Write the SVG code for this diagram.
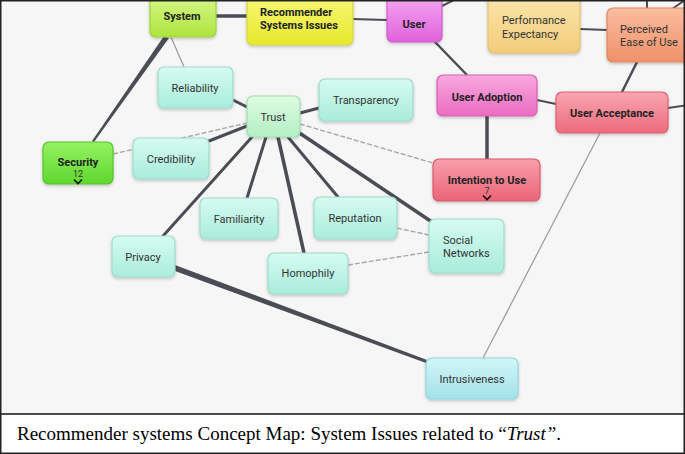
<svg xmlns="http://www.w3.org/2000/svg" width="685" height="454" viewBox="0 0 685 454">
<defs>
<linearGradient id="gTeal" x1="0" y1="0" x2="0" y2="1"><stop offset="0" stop-color="#d6fbf1"/><stop offset="1" stop-color="#a9ecdb"/></linearGradient>
<linearGradient id="gBlue" x1="0" y1="0" x2="0" y2="1"><stop offset="0" stop-color="#d2f6f7"/><stop offset="1" stop-color="#a2e2ea"/></linearGradient>
<linearGradient id="gTrust" x1="0" y1="0" x2="0" y2="1"><stop offset="0" stop-color="#defbe2"/><stop offset="1" stop-color="#b3efc3"/></linearGradient>
<linearGradient id="gSystem" x1="0" y1="0" x2="0" y2="1"><stop offset="0" stop-color="#d9f889"/><stop offset="1" stop-color="#ade43e"/></linearGradient>
<linearGradient id="gSecurity" x1="0" y1="0" x2="0" y2="1"><stop offset="0" stop-color="#95f262"/><stop offset="1" stop-color="#5fd72f"/></linearGradient>
<linearGradient id="gYellow" x1="0" y1="0" x2="0" y2="1"><stop offset="0" stop-color="#f8f878"/><stop offset="1" stop-color="#e6e82c"/></linearGradient>
<linearGradient id="gUser" x1="0" y1="0" x2="0" y2="1"><stop offset="0" stop-color="#f7a8f3"/><stop offset="1" stop-color="#df62db"/></linearGradient>
<linearGradient id="gPerf" x1="0" y1="0" x2="0" y2="1"><stop offset="0" stop-color="#fce6ad"/><stop offset="1" stop-color="#f2cc7a"/></linearGradient>
<linearGradient id="gEase" x1="0" y1="0" x2="0" y2="1"><stop offset="0" stop-color="#fabda0"/><stop offset="1" stop-color="#ef9169"/></linearGradient>
<linearGradient id="gAdopt" x1="0" y1="0" x2="0" y2="1"><stop offset="0" stop-color="#f9a8de"/><stop offset="1" stop-color="#ea6cc2"/></linearGradient>
<linearGradient id="gAccept" x1="0" y1="0" x2="0" y2="1"><stop offset="0" stop-color="#faa6b1"/><stop offset="1" stop-color="#ec6a7c"/></linearGradient>
<linearGradient id="gIntent" x1="0" y1="0" x2="0" y2="1"><stop offset="0" stop-color="#f99fac"/><stop offset="1" stop-color="#ea6477"/></linearGradient>
<filter id="sh" x="-20%" y="-20%" width="140%" height="150%"><feDropShadow dx="0" dy="1.5" stdDeviation="1.5" flood-color="#000" flood-opacity="0.22"/></filter>
</defs>
<style>
.n rect{filter:url(#sh);stroke-width:1.2}
.t{font-family:Roboto,"Liberation Sans",sans-serif;font-size:11px;fill:#333;text-anchor:middle}
.b{font-weight:bold;fill:#222}
.l{text-anchor:start}
.s{font-size:9px}
.teal rect{fill:url(#gTeal);stroke:#9fdcca}
.c{fill:none;stroke:#4a4d55;stroke-linecap:round}
.thin{fill:none;stroke:#9a9a9a;stroke-width:1.2}
.dash{fill:none;stroke:#a8a8a8;stroke-width:1.4;stroke-dasharray:5 2}
.chev{fill:none;stroke:#111;stroke-width:1.6}
.cap{font-family:"Liberation Serif","Times New Roman",serif;font-size:19px;fill:#000}
</style>
<rect x="0" y="0" width="685" height="454" fill="#fff"/>
<rect x="0" y="0" width="685" height="414" fill="#f6f6f6"/>

<g id="connectors">
<line class="c" x1="214" y1="16" x2="247" y2="16" stroke-width="3.5"/>
<line class="c" x1="352" y1="19" x2="387" y2="20" stroke-width="2"/>
<line class="c" x1="424" y1="2" x2="427" y2="-2" stroke-width="2"/>
<line class="c" x1="442" y1="6" x2="458" y2="-2" stroke-width="2"/>
<line class="c" x1="647" y1="8" x2="647" y2="-2" stroke-width="2"/>
<line class="c" x1="672" y1="9" x2="688" y2="-2" stroke-width="2"/>
<line class="c" x1="580" y1="29" x2="607" y2="30" stroke-width="2"/>
<line class="c" x1="435" y1="42" x2="467" y2="75" stroke-width="2.5"/>
<line class="c" x1="637" y1="62" x2="622" y2="92" stroke-width="2.5"/>
<line class="c" x1="537" y1="100" x2="556" y2="104" stroke-width="2"/>
<line class="c" x1="668" y1="108" x2="688" y2="105" stroke-width="2"/>
<line class="c" x1="487" y1="116" x2="487" y2="159" stroke-width="3.5"/>
<line class="thin" x1="600" y1="133" x2="483" y2="358"/>
<polygon points="164,36 169,38 94,142 92,141" fill="#4a4d55"/>
<line class="thin" x1="171" y1="37" x2="184" y2="67"/>
<line class="c" x1="233" y1="100" x2="247" y2="107" stroke-width="3"/>
<line class="c" x1="300" y1="113" x2="319" y2="108" stroke-width="3"/>
<line class="dash" x1="113" y1="154" x2="247" y2="123"/>
<line class="c" x1="209" y1="141" x2="247" y2="126" stroke-width="3"/>
<line class="dash" x1="300" y1="124" x2="433" y2="163"/>
<line class="c" x1="252" y1="137" x2="163" y2="236" stroke-width="3"/>
<line class="c" x1="266" y1="137" x2="247" y2="198" stroke-width="3"/>
<line class="c" x1="278" y1="137" x2="304" y2="253" stroke-width="3.5"/>
<line class="c" x1="288" y1="137" x2="338" y2="197" stroke-width="3"/>
<line class="c" x1="298" y1="132" x2="432" y2="222" stroke-width="3.5"/>
<line class="dash" x1="397" y1="228" x2="429" y2="235"/>
<line class="dash" x1="348" y1="265" x2="429" y2="252"/>
<polygon points="175,265 175,271 426,363 427,360" fill="#4a4d55"/>
</g>

<g id="system" class="n"><rect x="150" y="-6" width="66" height="43" rx="6" fill="url(#gSystem)" stroke="#9ed33e"/><text class="t b" x="182" y="20">System</text></g>
<g id="recommender-systems-issues" class="n"><rect x="247" y="-6" width="106" height="51" rx="6" fill="url(#gYellow)" stroke="#d6d640"/><text class="t b l" x="260" y="16">Recommender</text><text class="t b l" x="260" y="29">Systems Issues</text></g>
<g id="user" class="n"><rect x="387" y="-6" width="55" height="48" rx="6" fill="url(#gUser)" stroke="#cf5acb"/><text class="t b" x="414" y="28">User</text></g>
<g id="performance-expectancy" class="n"><rect x="488" y="-6" width="92" height="59" rx="6" fill="url(#gPerf)" stroke="#e7c070"/><text class="t l" x="502" y="24">Performance</text><text class="t l" x="502" y="38">Expectancy</text></g>
<g id="perceived-ease-of-use" class="n"><rect x="607" y="8" width="86" height="54" rx="6" fill="url(#gEase)" stroke="#e0875f"/><text class="t l" x="620" y="33">Perceived</text><text class="t l" x="620" y="46">Ease of Use</text></g>
<g id="user-adoption" class="n"><rect x="437" y="75" width="100" height="41" rx="6" fill="url(#gAdopt)" stroke="#d860b0"/><text class="t b" x="487" y="101">User Adoption</text></g>
<g id="user-acceptance" class="n"><rect x="556" y="92" width="112" height="41" rx="6" fill="url(#gAccept)" stroke="#da6072"/><text class="t b" x="612" y="117">User Acceptance</text></g>
<g id="reliability" class="n teal"><rect x="158" y="67" width="75" height="41" rx="6"/><text class="t" x="195" y="92">Reliability</text></g>
<g id="trust" class="n"><rect x="247" y="96" width="53" height="41" rx="6" fill="url(#gTrust)" stroke="#a3dfb2"/><text class="t" x="273" y="121">Trust</text></g>
<g id="transparency" class="n teal"><rect x="319" y="79" width="94" height="42" rx="6"/><text class="t" x="366" y="104">Transparency</text></g>
<g id="credibility" class="n teal"><rect x="133" y="138" width="76" height="41" rx="6"/><text class="t" x="171" y="163">Credibility</text></g>
<g id="security" class="n"><rect x="43" y="142" width="70" height="42" rx="6" fill="url(#gSecurity)" stroke="#54c52a"/><text class="t b" x="78" y="166">Security</text><text class="t s" x="78" y="177">12</text><path class="chev" d="M74,179.5 L78,183.5 L82,179.5"/></g>
<g id="familiarity" class="n teal"><rect x="200" y="198" width="78" height="41" rx="6"/><text class="t" x="239" y="223">Familiarity</text></g>
<g id="privacy" class="n teal"><rect x="112" y="236" width="63" height="41" rx="6"/><text class="t" x="143" y="261">Privacy</text></g>
<g id="homophily" class="n teal"><rect x="268" y="253" width="80" height="41" rx="6"/><text class="t" x="308" y="277">Homophily</text></g>
<g id="reputation" class="n teal"><rect x="314" y="197" width="83" height="42" rx="6"/><text class="t" x="355" y="222">Reputation</text></g>
<g id="social-networks" class="n teal"><rect x="429" y="219" width="75" height="54" rx="6"/><text class="t l" x="443" y="244">Social</text><text class="t l" x="443" y="257">Networks</text></g>
<g id="intention-to-use" class="n"><rect x="433" y="159" width="107" height="42" rx="6" fill="url(#gIntent)" stroke="#d85a6c"/><text class="t b" x="487" y="184">Intention to Use</text><text class="t s" x="487" y="194">7</text><path class="chev" d="M483,195.5 L487,199.5 L491,195.5"/></g>
<g id="intrusiveness" class="n"><rect x="426" y="358" width="92" height="41" rx="6" fill="url(#gBlue)" stroke="#92d6e0"/><text class="t" x="472" y="383">Intrusiveness</text></g>

<line x1="0" y1="414" x2="685" y2="414" stroke="#111" stroke-width="1.5"/>
<rect x="0.75" y="0.75" width="683.5" height="452.5" fill="none" stroke="#222" stroke-width="1.5"/>
<text class="cap" x="17" y="440">Recommender systems Concept Map: System Issues related to “<tspan font-style="italic">Trust”</tspan>.</text>
</svg>
